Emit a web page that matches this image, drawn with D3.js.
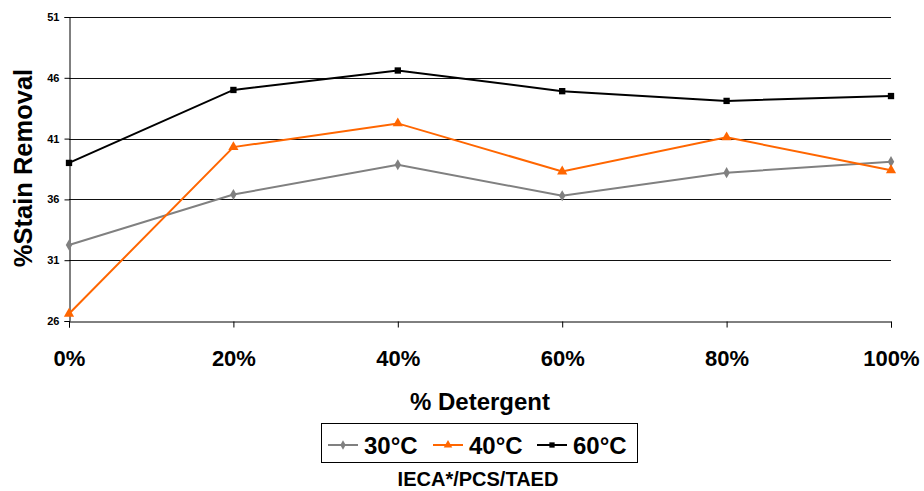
<!DOCTYPE html>
<html>
<head>
<meta charset="utf-8">
<script src="https://cdn.jsdelivr.net/npm/d3@7"></script>
<style>
  body { margin: 0; background: #fff; }
  text { font-family: Arial, "Liberation Sans", sans-serif; font-weight: bold; }
</style>
</head>
<body>
<div id="chart"></div>
<script>
const categories = ["0%", "20%", "40%", "60%", "80%", "100%"];
const yTicks = [26, 31, 36, 41, 46, 51];
const s30 = [32.25, 36.4, 38.85, 36.3, 38.2, 39.1];
const s40 = [26.6, 40.3, 42.25, 38.3, 41.1, 38.4];
const s60 = [39.0, 45.0, 46.6, 44.9, 44.1, 44.5];
const seriesNames = ["30°C", "40°C", "60°C"];

const W = 924, H = 491;
const m = { left: 69, right: 33, top: 17, bottom: 170 };

const svg = d3.select("#chart").append("svg")
  .attr("width", W).attr("height", H);

const x = d3.scalePoint().domain(categories).range([m.left, W - m.right]);
const y = d3.scaleLinear().domain([26, 51]).range([H - m.bottom, m.top]);

// gridlines
svg.append("g").selectAll("line").data(yTicks.slice(1)).join("line")
  .attr("x1", m.left).attr("x2", W - m.right)
  .attr("y1", d => Math.round(y(d)) + 0.5).attr("y2", d => Math.round(y(d)) + 0.5)
  .attr("stroke", "#111").attr("stroke-width", 1);

// y axis
const yAxis = svg.append("g")
  .attr("transform", `translate(${m.left + 0.5},0)`)
  .call(d3.axisLeft(y).tickValues(yTicks).tickSize(5).tickPadding(5));
yAxis.select(".domain").attr("stroke", "#000");
yAxis.selectAll("text").attr("font-size", 11).attr("fill", "#000");

// x axis
const xAxis = svg.append("g")
  .attr("transform", `translate(0,${Math.round(y(26)) + 0.5})`)
  .call(d3.axisBottom(x).tickSize(6));
xAxis.select(".domain").attr("stroke", "#000");
xAxis.selectAll("text").attr("font-size", 22).attr("fill", "#000")
  .attr("dy", null).attr("y", 44);

// axis titles
svg.append("text")
  .attr("transform", `translate(32,168) rotate(-90)`)
  .attr("text-anchor", "middle").attr("font-size", 25.5)
  .text("%Stain Removal");
svg.append("text")
  .attr("x", 480).attr("y", 410).attr("text-anchor", "middle")
  .attr("font-size", 24).text("% Detergent");
svg.append("text")
  .attr("x", 478).attr("y", 486).attr("text-anchor", "middle")
  .attr("font-size", 20).text("IECA*/PCS/TAED");

const series = [
  { name: seriesNames[0], values: s30, color: "#808080", symbol: d3.symbolDiamond, size: 36 },
  { name: seriesNames[1], values: s40, color: "#ff6600", symbol: d3.symbolTriangle, size: 45 },
  { name: seriesNames[2], values: s60, color: "#000000", symbol: d3.symbolSquare, size: 40 }
];

const line = d3.line().x((d, i) => x(categories[i])).y(d => y(d));

series.forEach(s => {
  svg.append("path").datum(s.values)
    .attr("d", line).attr("fill", "none")
    .attr("stroke", s.color).attr("stroke-width", 2);
  svg.append("g").selectAll("path").data(s.values).join("path")
    .attr("transform", (d, i) => `translate(${x(categories[i])},${y(d)})`)
    .attr("d", d3.symbol(s.symbol, s.size))
    .attr("fill", s.color);
});

// legend
const lg = svg.append("g");
lg.append("rect").attr("x", 321.5).attr("y", 423.5).attr("width", 316).attr("height", 39)
  .attr("fill", "#fff").attr("stroke", "#000");
const legendX = [328, 433, 537];
series.forEach((s, i) => {
  const g = lg.append("g").attr("transform", `translate(${legendX[i]},445)`);
  g.append("line").attr("x1", 0).attr("x2", 30).attr("stroke", s.color).attr("stroke-width", 2);
  g.append("path").attr("transform", "translate(15,0)")
    .attr("d", d3.symbol(s.symbol, s.size * 0.7)).attr("fill", s.color);
  g.append("text").attr("x", 36).attr("y", 8.5).attr("font-size", 24).text(s.name);
});
</script>
</body>
</html>
